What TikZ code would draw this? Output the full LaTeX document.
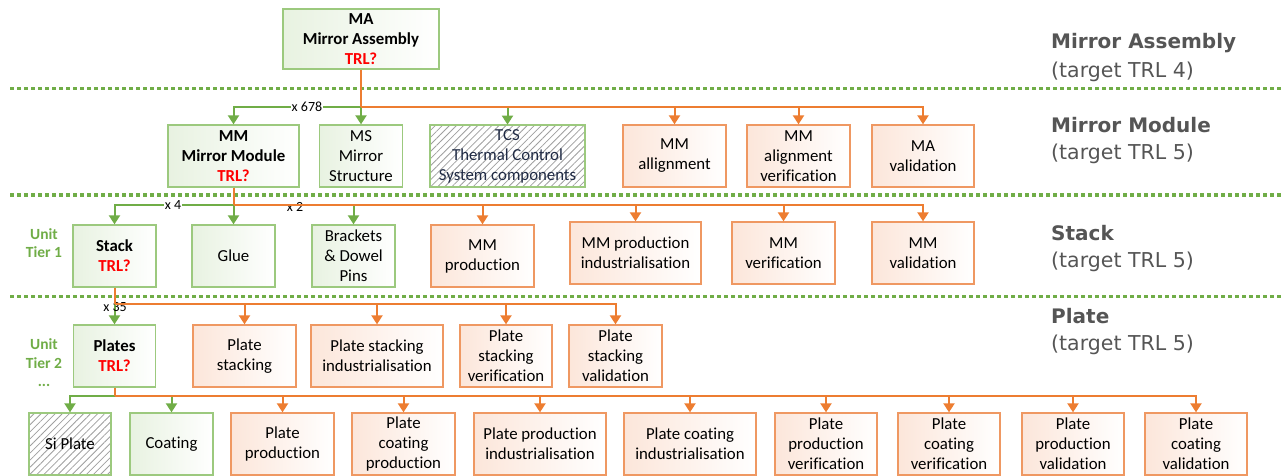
\documentclass[tikz,border=0pt]{standalone}
\usepackage{fontspec}
\setmainfont{Carlito}[Ligatures=NoCommon]
\newfontfamily\lblfont{DejaVu Sans}
\usetikzlibrary{arrows.meta,patterns.meta}
\definecolor{cgreen}{HTML}{70AD47}
\definecolor{corange}{HTML}{ED7D31}
\definecolor{gborder}{HTML}{9CC97E}
\definecolor{oborder}{HTML}{EF9862}
\definecolor{gtint}{HTML}{E8F2E1}
\definecolor{otint}{HTML}{FCE6DA}
\definecolor{lblgray}{HTML}{555555}
\definecolor{tcstext}{HTML}{1F2A44}
\newcommand\trlq{\textcolor{red}{\textbf{TRL?}}}
\begin{document}
\begin{tikzpicture}[x=1pt,y=-1pt,
  box/.style={draw, line width=1.3pt, align=center, inner sep=1pt, text=black,
    font=\fontsize{16.8}{20}\selectfont},
  gbox/.style={box, draw=gborder, left color=gtint, right color=white},
  obox/.style={box, draw=oborder, left color=otint, right color=white},
  hbox/.style={box, draw=gborder, pattern={Lines[angle=45,distance=5pt,line width=0.8pt]}, pattern color=gray!75},
  gline/.style={draw=cgreen, line width=2pt},
  oline/.style={draw=corange, line width=2pt},
  gconn/.style={gline, -{Triangle[length=9pt,width=11pt]}},
  oconn/.style={oline, -{Triangle[length=9pt,width=11pt]}},
  sep/.style={draw=cgreen, line width=3pt, dash pattern=on 4pt off 3pt},
  mult/.style={inner sep=1pt, font=\fontsize{14}{14}\selectfont, text=black},
  tier/.style={text=cgreen, align=center, font=\bfseries\fontsize{15.5}{18.5}\selectfont},
  lvlb/.style={anchor=west, inner sep=0pt, text=lblgray, font=\lblfont\bfseries\fontsize{20}{22}\selectfont},
  lvln/.style={anchor=west, inner sep=0pt, text=lblgray, font=\lblfont\fontsize{20.5}{22}\selectfont},
  r2/.style={minimum height=62pt},
]
\fill[white] (0,0) rectangle (1283,476);
\useasboundingbox (0,0) rectangle (1283,476);

% separators
\draw[sep] (10,89) -- (1283,89);
\draw[sep] (10,195) -- (1283,195);
\draw[sep] (10,296) -- (1283,296);

% level labels
\node[lvlb] (L1a) at (1051,43) {Mirror Assembly};
\node[lvln] (L1b) at (1051,72) {(target TRL 4)};
\node[lvlb] (L2a) at (1051,125) {Mirror Module};
\node[lvln] (L2b) at (1051,154) {(target TRL 5)};
\node[lvlb] (L3a) at (1051,233) {Stack};
\node[lvln] (L3b) at (1051,262) {(target TRL 5)};
\node[lvlb] (L4a) at (1051,316) {Plate};
\node[lvln] (L4b) at (1051,345) {(target TRL 5)};

% tier labels
\node[tier] (T1) at (44,243) {Unit\\Tier 1};
\node[tier] (T2) at (44,363) {Unit\\Tier 2\\...};

% Row 1
\node[gbox, minimum width=156pt, minimum height=60pt] (MA) at (361,39)
  {\textbf{MA}\\\textbf{Mirror Assembly}\\\trlq};

% Row 2
\node[gbox, r2, minimum width=131pt] (MM) at (233.5,156) {\textbf{MM}\\\textbf{Mirror Module}\\\trlq};
\node[gbox, r2, minimum width=83pt] (MS) at (361,156) {MS\\Mirror\\Structure};
\node[hbox, r2, minimum width=155pt, text=tcstext] (TCS) at (507.5,156) {TCS\\Thermal Control\\System components};
\node[obox, r2, minimum width=103pt] (MMall) at (674.5,156) {MM\\allignment};
\node[obox, r2, minimum width=103pt] (MMalv) at (798.5,156) {MM\\alignment\\verification};
\node[obox, r2, minimum width=102pt] (MAval) at (923,156) {MA\\validation};

% Row 3
\node[gbox, r2, minimum width=83pt] (Stack) at (114.5,256) {\textbf{Stack}\\\trlq};
\node[gbox, r2, minimum width=83pt] (Glue) at (233.5,256) {Glue};
\node[gbox, r2, minimum width=83pt] (Brk) at (353.5,256) {Brackets\\\& Dowel\\Pins};
\node[obox, r2, minimum width=103pt] (MMprod) at (482.5,256) {MM\\production};
\node[obox, r2, minimum width=131pt] (MMind) at (635.5,253) {MM production\\industrialisation};
\node[obox, r2, minimum width=103pt] (MMver) at (783.5,253) {MM\\verification};
\node[obox, r2, minimum width=102pt] (MMval) at (923,253) {MM\\validation};

% Row 4
\node[gbox, r2, minimum width=82pt] (Plates) at (114.5,356) {\textbf{Plates}\\\trlq};
\node[obox, r2, minimum width=103pt] (PSt) at (244.5,356) {Plate\\stacking};
\node[obox, r2, minimum width=132pt] (PStInd) at (377,356) {Plate stacking\\industrialisation};
\node[obox, r2, minimum width=92pt] (PStVer) at (506,356) {Plate\\stacking\\verification};
\node[obox, r2, minimum width=93pt] (PStVal) at (615.5,356) {Plate\\stacking\\validation};

% Row 5
\node[hbox, r2, minimum width=82pt] (SiP) at (70,444) {Si Plate};
\node[gbox, r2, minimum width=83pt] (Coat) at (171.5,444) {Coating};
\node[obox, r2, minimum width=103pt] (PP) at (282.5,444) {Plate\\production};
\node[obox, r2, minimum width=103pt] (PCP) at (403.5,444) {Plate\\coating\\production};
\node[obox, r2, minimum width=132pt] (PPI) at (540,444) {Plate production\\industrialisation};
\node[obox, r2, minimum width=132pt] (PCI) at (690,444) {Plate coating\\industrialisation};
\node[obox, r2, minimum width=102pt] (PPV) at (826,444) {Plate\\production\\verification};
\node[obox, r2, minimum width=102pt] (PCV) at (949,444) {Plate\\coating\\verification};
\node[obox, r2, minimum width=102pt] (PPVal) at (1073,444) {Plate\\production\\validation};
\node[obox, r2, minimum width=102pt] (PCVal) at (1196,444) {Plate\\coating\\validation};

% Connectors row 1 -> 2
\coordinate (j1) at (361,107);
\draw[gconn] (j1) -| (MM);
\draw[gconn] (j1) -- (MS);
\draw[gconn] (j1) -| (TCS);
\node[mult, fill=white] (m1) at (307,107) {x 678};
\draw[oline] (MA) -- (j1);
\draw[oconn] (j1) -| (MMall);
\draw[oconn] (j1) -| (MMalv);
\draw[oconn] (j1) -| (MAval);

% row 2 -> 3
\coordinate (j2) at (233.5,205);
\draw[gconn] (j2) -| (Stack);
\draw[gconn] (j2) -- (Glue);
\draw[gconn] (j2) -| (Brk);
\node[mult, fill=white] (m2) at (173,205) {x 4};
\node[mult] (m3) at (295,207) {x 2};
\draw[oline] (MM) -- (j2);
\draw[oconn] (j2) -| (MMprod);
\draw[oconn] (j2) -| (MMind);
\draw[oconn] (j2) -| (MMver);
\draw[oconn] (j2) -| (MMval);

% row 3 -> 4
\coordinate (j3) at (114.5,304);
\draw[gconn] (j3) -- (Plates);
\node[mult] (m4) at (115,307) {x 35};
\draw[oline] (Stack) -- (j3);
\draw[oconn] (j3) -| (PSt);
\draw[oconn] (j3) -| (PStInd);
\draw[oconn] (j3) -| (PStVer);
\draw[oconn] (j3) -| (PStVal);

% row 4 -> 5
\coordinate (j4) at (114.5,396);
\draw[gconn] (j4) -| (SiP);
\draw[gconn] (j4) -| (Coat);
\draw[oline] (Plates) -- (j4);
\draw[oconn] (j4) -| (PP);
\draw[oconn] (j4) -| (PCP);
\draw[oconn] (j4) -| (PPI);
\draw[oconn] (j4) -| (PCI);
\draw[oconn] (j4) -| (PPV);
\draw[oconn] (j4) -| (PCV);
\draw[oconn] (j4) -| (PPVal);
\draw[oconn] (j4) -| (PCVal);
\end{tikzpicture}
\end{document}
